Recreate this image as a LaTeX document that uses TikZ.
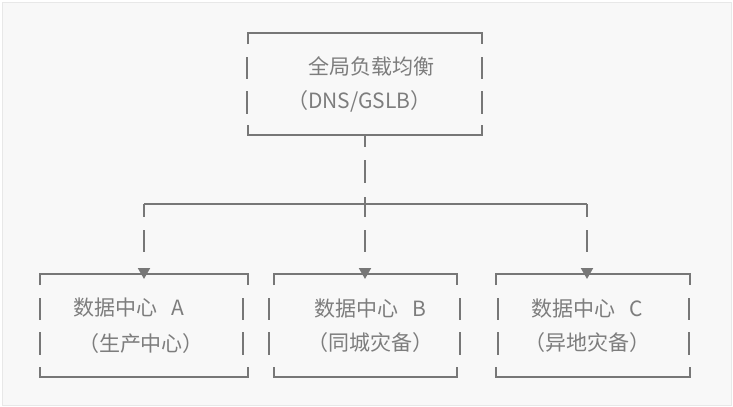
\documentclass[tikz,border=0pt]{standalone}
\usepackage{fontspec}
\newfontfamily\cjk{Noto Sans CJK SC}
\usetikzlibrary{arrows.meta,calc}

\definecolor{linegray}{RGB}{119,119,119}
\definecolor{textgray}{RGB}{125,125,125}
\definecolor{bggray}{RGB}{248,248,248}
\definecolor{edgegray}{RGB}{232,232,232}

\tikzset{every picture/.style={line width=1.5pt}}
\tikzset{
  boxarea/.style={inner sep=0pt, outer sep=0pt},
  dcedge/.style={draw=linegray, line width=1.5pt},
  txt/.style={text=textgray, font=\cjk\fontsize{15.75}{18}\selectfont, inner sep=0pt},
  link/.style={draw=linegray, line width=1.5pt, -{Triangle[length=8.25pt,width=9pt]}},
}

% frame of a box: solid top and bottom, broken sides
\newcommand{\dcframe}[3]{%
  \draw[dcedge] ($(#1.north west)+(0,11)$) -- (#1.north west) -- (#1.north east) -- ($(#1.north east)+(0,11)$);
  \draw[dcedge] ($(#1.south west)+(0,-10)$) -- (#1.south west) -- (#1.south east) -- ($(#1.south east)+(0,-10)$);
  \draw[dcedge] ($(#1.north west)+(#2,24)$) -- +(0,22) ($(#1.north west)+(#2,58)$) -- +(0,23);
  \draw[dcedge] ($(#1.north east)+(#3,24)$) -- +(0,22) ($(#1.north east)+(#3,58)$) -- +(0,23);
}

\begin{document}
\begin{tikzpicture}[x=0.75pt,y=0.75pt,yscale=-1,xscale=1]
\useasboundingbox (0,0) rectangle (733,407);

%Shape: Rectangle [background]
\draw [draw=edgegray, fill=bggray, line width=0.75pt] (2,2) rectangle (731,405);

%Shape: Boxes
\node [boxarea, minimum width=175.5pt, minimum height=76.5pt] (gslb) at (365,84) {};
\node [boxarea, minimum width=156pt, minimum height=77.25pt] (dcA) at (144,325.5) {};
\node [boxarea, minimum width=137.25pt, minimum height=77.25pt] (dcB) at (365.5,325.5) {};
\node [boxarea, minimum width=145.5pt, minimum height=77.25pt] (dcC) at (593,325.5) {};
\dcframe{gslb}{-1}{0}
\dcframe{dcA}{0}{-5}
\dcframe{dcB}{-5}{3}
\dcframe{dcC}{2}{-1}

%Straight Lines
\coordinate (split) at (365,204);
\coordinate (splitA) at (144,204);
\coordinate (splitC) at (587,204);
\coordinate (tipA) at ($(splitA |- dcA.north)+(0,5)$);
\coordinate (tipB) at ($(split |- dcB.north)+(0,5)$);
\coordinate (tipC) at ($(splitC |- dcC.north)+(0,5)$);
\draw [dcedge] (splitA) -- (splitC);
\draw [link, dash pattern={on 9pt off 9.75pt on 17.25pt off 10.5pt on 15pt off 9.75pt on 16.5pt off 22.5pt}] (gslb.south) -- (tipB);
\draw [link, dash pattern={on 9.75pt off 9.75pt on 16.5pt off 22.5pt}] (splitA) -- (tipA);
\draw [link, dash pattern={on 9.75pt off 9.75pt on 16.5pt off 22.5pt}] (splitC) -- (tipC);

% Text Node
\node [txt] (gslbT) at (371.5,66.5) {全局负载均衡};
% Text Node
\node [txt] (gslbS) at (359.5,101) {（DNS/GSLB）};
% Text Node
\node [txt] (dcAT) at (129,307.5) {数据中心\hspace{0.65em}A};
% Text Node
\node [txt] (dcAS) at (141,344) {（生产中心）};
% Text Node
\node [txt] (dcBT) at (370.5,309) {数据中心\hspace{0.65em}B};
% Text Node
\node [txt] (dcBS) at (370.5,343) {（同城灾备）};
% Text Node
\node [txt] (dcCT) at (587.5,308.5) {数据中心\hspace{0.65em}C};
% Text Node
\node [txt] (dcCS) at (587.5,343) {（异地灾备）};

\end{tikzpicture}
\end{document}
